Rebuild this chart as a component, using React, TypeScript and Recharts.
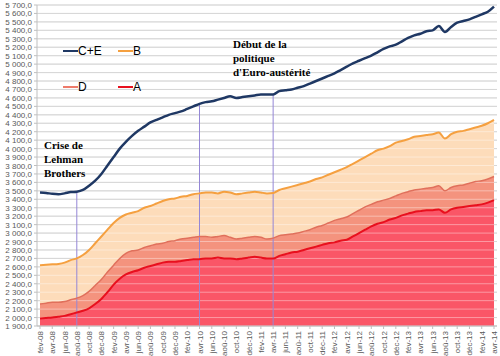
import React from 'react'
import { ComposedChart, Area, Line, XAxis, YAxis, CartesianGrid, ReferenceLine } from 'recharts'

const months = [
  'fév-08', 'mar-08', 'avr-08', 'mai-08', 'jun-08', 'jul-08', 'aoû-08', 'sep-08', 'oct-08', 'nov-08', 'déc-08',
  'jan-09', 'fév-09', 'mar-09', 'avr-09', 'mai-09', 'jun-09', 'jul-09', 'aoû-09', 'sep-09', 'oct-09', 'nov-09', 'déc-09',
  'jan-10', 'fév-10', 'mar-10', 'avr-10', 'mai-10', 'jun-10', 'jul-10', 'aoû-10', 'sep-10', 'oct-10', 'nov-10', 'déc-10',
  'jan-11', 'fév-11', 'mar-11', 'avr-11', 'mai-11', 'jun-11', 'jul-11', 'aoû-11', 'sep-11', 'oct-11', 'nov-11', 'déc-11',
  'jan-12', 'fév-12', 'mar-12', 'avr-12', 'mai-12', 'jun-12', 'jul-12', 'aoû-12', 'sep-12', 'oct-12', 'nov-12', 'déc-12',
  'jan-13', 'fév-13', 'mar-13', 'avr-13', 'mai-13', 'jun-13', 'jul-13', 'aoû-13', 'sep-13', 'oct-13', 'nov-13', 'déc-13',
  'jan-14', 'fév-14', 'mar-14', 'avr-14',
]

const cE = [
  3480, 3475, 3465, 3460, 3470, 3485, 3490, 3510, 3560, 3620, 3700,
  3800, 3900, 4000, 4080, 4150, 4210, 4260, 4310, 4340, 4370, 4400, 4420,
  4440, 4470, 4500, 4530, 4550, 4560, 4580, 4600, 4620, 4600, 4610, 4620,
  4630, 4640, 4640, 4640, 4680, 4690, 4700, 4720, 4740, 4770, 4800, 4830,
  4860, 4890, 4930, 4970, 5010, 5040, 5070, 5100, 5140, 5180, 5210, 5230,
  5270, 5310, 5340, 5360, 5390, 5400, 5450, 5380, 5440, 5490, 5510, 5530,
  5560, 5590, 5620, 5680,
]

const b = [
  2620, 2625, 2630, 2635, 2650, 2680, 2700, 2740, 2800, 2880, 2960,
  3040, 3120, 3180, 3220, 3240, 3260, 3300, 3320, 3350, 3380, 3400, 3410,
  3430, 3440, 3460, 3470, 3480, 3480, 3470, 3490, 3480, 3460, 3470, 3480,
  3490, 3480, 3470, 3475, 3510, 3530, 3550, 3570, 3590, 3610, 3640, 3660,
  3690, 3720, 3750, 3780, 3820, 3860, 3900, 3940, 3980, 4000, 4030, 4070,
  4090, 4110, 4140, 4150, 4160, 4170, 4190, 4120, 4170, 4200, 4210, 4230,
  4250, 4270, 4300, 4340,
]

const d = [
  2160, 2170, 2180, 2180, 2190, 2210, 2230, 2260, 2310, 2380, 2450,
  2540, 2620, 2700, 2760, 2790, 2800, 2830, 2850, 2870, 2880, 2900, 2910,
  2930, 2940, 2950, 2960, 2960, 2950, 2960, 2970, 2950, 2930, 2940, 2950,
  2960, 2950, 2930, 2940, 2970, 2980, 2990, 3000, 3020, 3040, 3070, 3090,
  3120, 3150, 3170, 3190, 3230, 3270, 3310, 3340, 3370, 3390, 3410, 3440,
  3470, 3490, 3510, 3520, 3530, 3540, 3560, 3500, 3540, 3560, 3570, 3590,
  3610, 3620, 3640, 3670,
]

const a = [
  1990, 1995, 2000, 2010, 2020, 2040, 2060, 2080, 2110, 2160, 2220,
  2300, 2390, 2460, 2510, 2540, 2560, 2590, 2610, 2630, 2650, 2660, 2660,
  2670, 2680, 2690, 2690, 2700, 2700, 2710, 2700, 2700, 2690, 2700, 2710,
  2720, 2710, 2700, 2700, 2730, 2750, 2770, 2780, 2800, 2820, 2840, 2860,
  2880, 2890, 2910, 2920, 2960, 3000, 3040, 3080, 3110, 3130, 3160, 3180,
  3210, 3230, 3250, 3260, 3270, 3270, 3280, 3240, 3280, 3300, 3310, 3320,
  3330, 3340, 3360, 3390,
]

const yTicks = [
  1900, 2000, 2100, 2200, 2300, 2400, 2500, 2600, 2700, 2800, 2900,
  3000, 3100, 3200, 3300, 3400, 3500, 3600, 3700, 3800, 3900,
  4000, 4100, 4200, 4300, 4400, 4500, 4600, 4700, 4800, 4900,
  5000, 5100, 5200, 5300, 5400, 5500, 5600, 5700,
]

// months where the vertical markers drop from the C+E curve
const markers = ['aoû-08', 'avr-10', 'avr-11']

const legendRow1 = [
  { name: 'C+E', color: '#1f3864' },
  { name: 'B', color: '#f5a040' },
]
const legendRow2 = [
  { name: 'D', color: '#ee7b6b' },
  { name: 'A', color: '#e8101e' },
]

const data = months.map((m, i) => ({ month: m, ce: cE[i], b: b[i], d: d[i], a: a[i] }))

const fmt = (v: number) => {
  const s = v.toFixed(1).replace('.', ',')
  return s.replace(/^(\d)(\d{3})/, '$1\u00a0$2')
}

const XTick = ({ x, y, payload }: any) => (
  <g transform={`translate(${x},${y})`}>
    <text transform="rotate(-90)" textAnchor="end" dy={3} fontSize={8} fill="#595959" fontFamily="Liberation Sans, Arial">
      {payload.value}
    </text>
  </g>
)

const YTick = ({ x, y, payload }: any) => (
  <text x={x} y={y} dy={3} textAnchor="end" fontSize={8} fill="#595959" fontFamily="Liberation Sans, Arial">
    {fmt(payload.value)}
  </text>
)

const LegendItem = ({ name, color }: any) => (
  <div style={{ display: 'flex', alignItems: 'center', width: 55 }}>
    <span style={{ display: 'inline-block', width: 15, height: 2.5, background: color }} />
    <span>{name}</span>
  </div>
)

const noteStyle: React.CSSProperties = {
  position: 'absolute',
  fontFamily: 'Liberation Serif, Times New Roman, serif',
  fontWeight: 'bold',
  fontSize: 11,
  lineHeight: '14px',
  color: '#000',
}

const App = () => {
  return (
    <div style={{ position: 'absolute', left: 0, top: 0, width: 500, height: 356, background: '#fff' }}>
      <ComposedChart width={500} height={356} data={data} margin={{ top: 5, right: 3, left: 0, bottom: 0 }}>
        <CartesianGrid vertical={false} stroke="#bdbdbd" />
        <XAxis
          dataKey="month"
          interval={1}
          tick={<XTick />}
          height={30}
          padding={{ left: 3, right: 3 }}
          stroke="#bfbfbf"
          tickSize={3}
        />
        <YAxis
          domain={[1900, 5700]}
          ticks={yTicks}
          interval={0}
          allowDataOverflow
          width={37}
          tick={<YTick />}
          stroke="#bfbfbf"
          tickSize={3}
        />
        <Area type="monotone" dataKey="b" stroke="none" fill="#fddcba" fillOpacity={1} isAnimationActive={false} />
        <Area type="monotone" dataKey="d" stroke="none" fill="#f4937e" fillOpacity={1} isAnimationActive={false} />
        <Area type="monotone" dataKey="a" stroke="none" fill="#fa5667" fillOpacity={1} isAnimationActive={false} />
        {yTicks.map((t) => (
          <ReferenceLine key={t} y={t} stroke="#ffffff" strokeOpacity={0.4} />
        ))}
        {markers.map((m) => (
          <ReferenceLine
            key={m}
            segment={[{ x: m, y: 1900 }, { x: m, y: cE[months.indexOf(m)] }]}
            stroke="#9487d6"
            strokeWidth={1}
          />
        ))}
        <Line type="monotone" dataKey="b" stroke="#f5a040" strokeWidth={2} dot={false} isAnimationActive={false} />
        <Line type="monotone" dataKey="d" stroke="#e0705c" strokeWidth={1.5} dot={false} isAnimationActive={false} />
        <Line type="monotone" dataKey="a" stroke="#e8101e" strokeWidth={2} dot={false} isAnimationActive={false} />
        <Line type="monotone" dataKey="ce" stroke="#1f3864" strokeWidth={2.5} dot={false} isAnimationActive={false} />
      </ComposedChart>

      <div style={{ position: 'absolute', left: 63, top: 43, fontFamily: 'Liberation Sans, Arial', fontSize: 12, color: '#000' }}>
        <div style={{ display: 'flex', height: 16 }}>
          {legendRow1.map((l) => <LegendItem key={l.name} {...l} />)}
        </div>
        <div style={{ display: 'flex', height: 16, marginTop: 20 }}>
          {legendRow2.map((l) => <LegendItem key={l.name} {...l} />)}
        </div>
      </div>

      <div style={{ ...noteStyle, left: 44, top: 138 }}>
        Crise de<br />Lehman<br />Brothers
      </div>
      <div style={{ ...noteStyle, left: 233, top: 37 }}>
        Début de la<br />politique<br />d'Euro-austérité
      </div>
    </div>
  )
}

export default App
